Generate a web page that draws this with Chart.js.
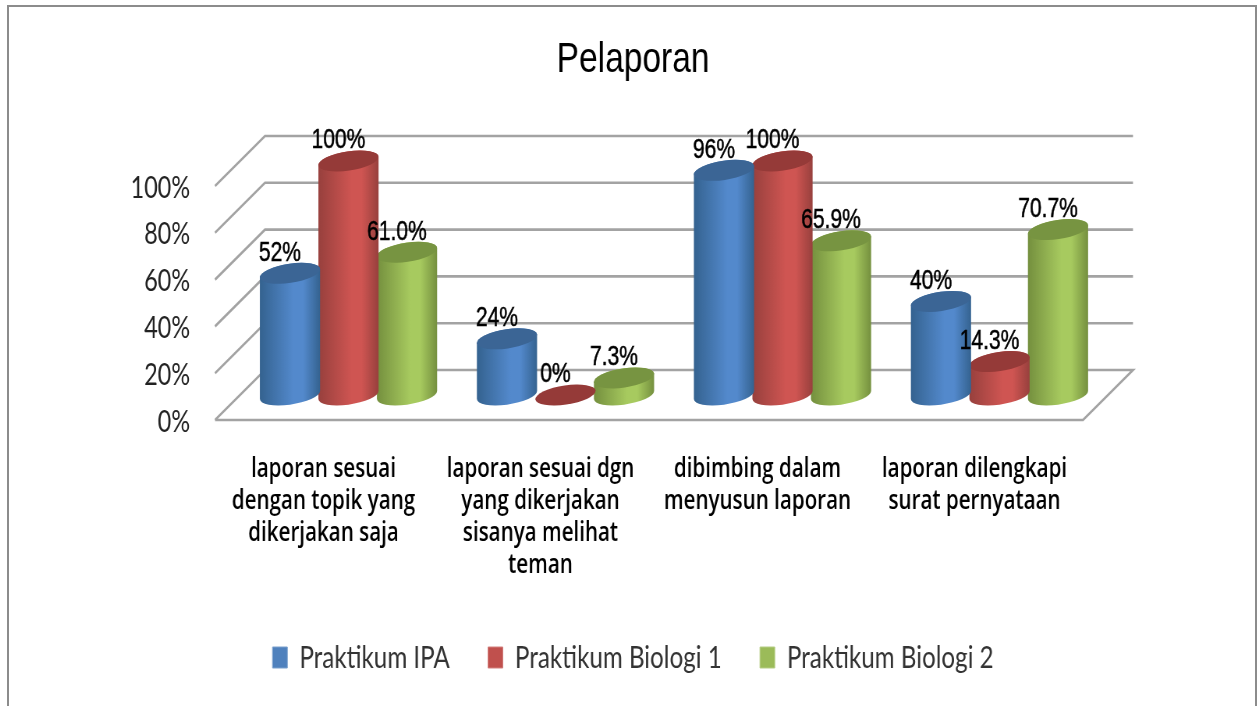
<!DOCTYPE html>
<html lang="en">

<head>
  <meta charset="UTF-8" />
  <title>Pelaporan</title>
  <script src="https://cdn.jsdelivr.net/npm/chart.js"></script>
  <style>
    html, body { margin: 0; padding: 0; background: #fff; overflow: hidden; }
    #frame { position: absolute; left: 7px; top: 5px; width: 1246px; height: 720px; border: 2px solid #8c8c8c; }
    /* the reference is a squeezed screenshot, so the whole canvas is squeezed too */
    #wrap { position: absolute; left: 4px; top: 0; width: 1258px; height: 706px; overflow: hidden; }
    #chart { transform: scaleX(0.78); transform-origin: 0 0; }
  </style>
</head>

<body>
  <div id="frame"></div>
  <div id="wrap"><canvas id="chart" width="1613" height="706"></canvas></div>

  <script>
    const categories = [
      ["laporan sesuai", "dengan topik yang", "dikerjakan saja"],
      ["laporan sesuai dgn", "yang dikerjakan", "sisanya melihat", "teman"],
      ["dibimbing dalam", "menyusun laporan"],
      ["laporan dilengkapi", "surat pernyataan"]
    ];
    const ipaValues = [52, 24, 96, 40];
    const bio1Values = [100, 0, 100, 14.3];
    const bio2Values = [61.0, 7.3, 65.9, 70.7];
    const ipaLabels = ["52%", "24%", "96%", "40%"];
    const bio1Labels = ["100%", "0%", "100%", "14.3%"];
    const bio2Labels = ["61.0%", "7.3%", "65.9%", "70.7%"];
    const yTicks = [0, 20, 40, 60, 80, 100];

    const SQUEEZE = 0.78;
    const DEPTH_X = 25 / SQUEEZE; // half of the floor depth, cylinders stand mid floor
    const DEPTH_Y = 25;
    const TILT = -6.5 * Math.PI / 180;

    // side shading: edge, centre, top cap
    const shades = [
      ["#34628f", "#5389cc", "#3b6595"],
      ["#97403d", "#cf5552", "#953a38"],
      ["#748f3e", "#a7ca5f", "#779441"]
    ];

    const wallPlugin = {
      id: "wall",
      beforeDatasetsDraw(chart) {
        const { ctx, chartArea, scales } = chart;
        const left = chartArea.left, right = chartArea.right;
        ctx.save();
        ctx.strokeStyle = "#a3a3a3";
        ctx.lineWidth = 2.6;
        yTicks.forEach((v) => {
          const y = scales.y.getPixelForValue(v);
          ctx.beginPath();
          ctx.moveTo(left, y);
          ctx.lineTo(left + DEPTH_X * 2, y - DEPTH_Y * 2);
          ctx.lineTo(right + DEPTH_X * 2, y - DEPTH_Y * 2);
          if (v === 0) {
            ctx.lineTo(right, y);
            ctx.lineTo(left, y);
          }
          ctx.stroke();
        });
        ctx.restore();
      }
    };

    function drawCylinder(ctx, el, shade) {
      const cx = el.x + DEPTH_X;
      const top = el.y - DEPTH_Y;
      const bottom = el.base - DEPTH_Y;
      const a = el.width / 2 + 1.3;
      const b = 9.6;
      const t0 = Math.atan(-(b / a) * Math.tan(TILT));
      if (bottom - top > 0.5) {
        const g = ctx.createLinearGradient(cx - a, 0, cx + a, 0);
        g.addColorStop(0, shade[0]);
        g.addColorStop(0.55, shade[1]);
        g.addColorStop(0.72, shade[1]);
        g.addColorStop(1, shade[0]);
        ctx.fillStyle = g;
        ctx.beginPath();
        ctx.ellipse(cx, bottom, a, b, TILT, t0, t0 + Math.PI);
        ctx.ellipse(cx, top, a, b, TILT, t0 + Math.PI, t0 + 2 * Math.PI);
        ctx.closePath();
        ctx.fill();
      }
      ctx.fillStyle = shade[2];
      ctx.beginPath();
      ctx.ellipse(cx, top, a, b, TILT, 0, Math.PI * 2);
      ctx.fill();
    }

    const cylinderPlugin = {
      id: "cylinder",
      beforeDatasetDraw(chart, args) {
        const meta = chart.getDatasetMeta(args.index);
        meta.data.forEach((el) => drawCylinder(chart.ctx, el, shades[args.index]));
        return false; // no flat bars
      },
      afterDatasetsDraw(chart) {
        const ctx = chart.ctx;
        ctx.save();
        ctx.font = '27px "Liberation Sans"';
        ctx.fillStyle = "#000";
        ctx.strokeStyle = "#000";
        ctx.lineWidth = 0.5;
        ctx.textAlign = "center";
        ctx.textBaseline = "middle";
        chart.data.datasets.forEach((ds, i) => {
          chart.getDatasetMeta(i).data.forEach((el, j) => {
            const x = el.x + DEPTH_X - 10 / SQUEEZE;
            const y = el.y - DEPTH_Y - 20;
            ctx.fillText(ds.valueLabels[j], x, y);
            ctx.strokeText(ds.valueLabels[j], x, y);
          });
        });
        ctx.restore();
      }
    };

    new Chart(document.getElementById("chart"), {
      type: "bar",
      data: {
        labels: categories,
        datasets: [
          { label: "Praktikum IPA", data: ipaValues, valueLabels: ipaLabels, backgroundColor: "#4f81bd", borderColor: "#7ba0cd", borderWidth: 1 },
          { label: "Praktikum Biologi 1", data: bio1Values, valueLabels: bio1Labels, backgroundColor: "#c0504d", borderColor: "#d3807e", borderWidth: 1 },
          { label: "Praktikum Biologi 2", data: bio2Values, valueLabels: bio2Labels, backgroundColor: "#9bbb59", borderColor: "#b5cd85", borderWidth: 1 }
        ]
      },
      plugins: [wallPlugin, cylinderPlugin],
      options: {
        responsive: false,
        animation: false,
        categoryPercentage: 0.809,
        barPercentage: 1,
        layout: { padding: { left: 0, right: 0, top: 0, bottom: 23 } },
        plugins: {
          tooltip: { enabled: false },
          title: {
            display: true,
            text: "Pelaporan",
            color: "#000",
            font: { family: '"Liberation Sans"', size: 43, weight: "normal", lineHeight: 1.2 },
            padding: { top: 34.2, bottom: 100.2 }
          },
          legend: {
            position: "bottom",
            labels: {
              boxWidth: 19,
              boxHeight: 21,
              padding: 49,
              color: "#333",
              font: { family: "Lato", size: 31 }
            }
          }
        },
        scales: {
          x: {
            grid: { display: false, drawTicks: false },
            border: { display: false },
            ticks: {
              color: "#000",
              padding: 33,
              maxRotation: 0,
              autoSkip: false,
              font: { family: '"Open Sans"', size: 26.4, weight: "600", lineHeight: 1.22 }
            },
            afterFit(scale) { scale.height = 173; }
          },
          y: {
            min: 0,
            max: 100,
            grid: { display: false, drawTicks: false },
            border: { display: false },
            ticks: {
              stepSize: 20,
              padding: 32,
              labelOffset: 2,
              color: "#222",
              font: { family: "Lato", size: 30 },
              callback: (v) => v + "%"
            },
            afterFit(scale) { scale.width = 270.5; }
          },
          // empty axis, only keeps the plot clear of the right side
          rightGap: {
            type: "linear",
            position: "right",
            grid: { display: false, drawTicks: false },
            border: { display: false },
            ticks: { display: false },
            afterFit(scale) { scale.width = 229.7; }
          }
        }
      }
    });
  </script>
</body>

</html>
